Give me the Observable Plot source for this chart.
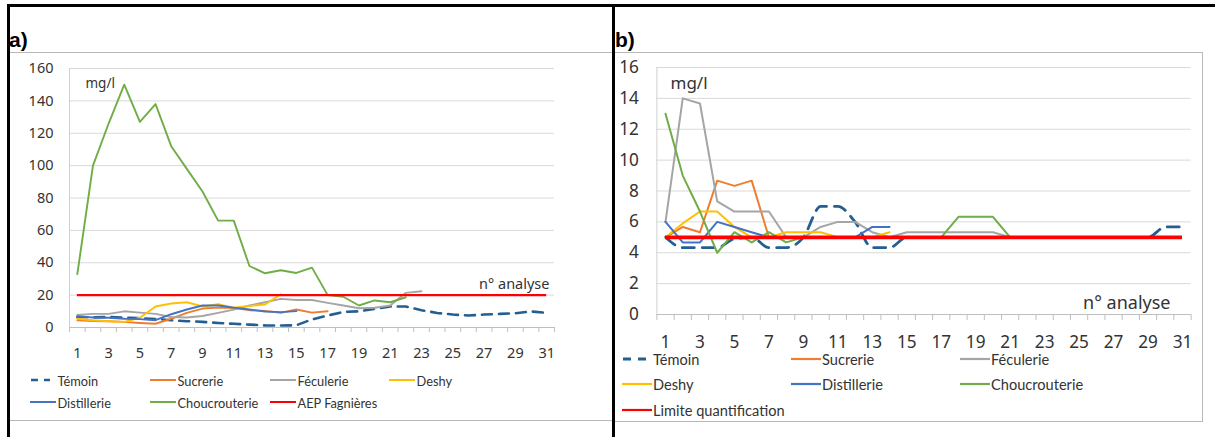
<!DOCTYPE html>
<html><head><meta charset="utf-8">
<script src="https://cdn.jsdelivr.net/npm/d3@7"></script>
<script src="https://cdn.jsdelivr.net/npm/@observablehq/plot@0.6"></script>
<style>
body{margin:0;background:#fff;width:1215px;height:437px;position:relative;overflow:hidden;font-family:Lato,"Noto Sans",sans-serif;color:#333}
.abs{position:absolute}
.lbl{position:absolute;white-space:nowrap;line-height:1}
</style></head><body>
<script>
// ---------- data ----------
const analyses = [1,2,3,4,5,6,7,8,9,10,11,12,13,14,15,16,17,18,19,20,21,22,23,24,25,26,27,28,29,30,31];
const xTickLabels = [1,3,5,7,9,11,13,15,17,19,21,23,25,27,29,31];
const yTicksA = [0,20,40,60,80,100,120,140,160];
const yTicksB = [0,2,4,6,8,10,12,14,16];

const seriesNamesA = ["Témoin","Sucrerie","Féculerie","Deshy","Distillerie","Choucrouterie","AEP Fagnières"];
const seriesNamesB = ["Témoin","Sucrerie","Féculerie","Deshy","Distillerie","Choucrouterie","Limite quantification"];

// panel a (mg/l)
const temoinA = [6.5,6.2,6.5,6,5.8,5.2,4.5,3.9,3.5,2.8,2.3,1.8,1.3,1.2,1.4,5,7.4,9.6,10,11.5,13,13,10.7,9,8,7.4,8,8.4,8.8,9.9,9];
const sucrerieA = [4.5,4,3.9,3.5,2.8,2.3,5.4,9,11.7,12.3,12,10.7,10.3,9,11.1,9.2,10];
const feculerieA = [7.8,8.4,8.4,10,9.2,8.4,6.5,6.2,7.1,9,11,13.6,15.6,17.7,17,17,15.2,13.6,11.9,12.2,13.6,21.4,22.4];
const deshyA = [5.4,4.5,3.9,3.5,6,13,14.8,15.6,13,14.4,12.3,13.3,14.2,20.5];
const distillerieA = [7,6.2,6,5.4,5.2,4.5,8.2,11.1,13.6,13.6,12.3,11.1,9.9,9.5,10.1];
const choucrouterieA = [33,100,126,150,127,138,112,98,84,66,66,38,33.5,35.4,33.7,37,20,19,13.6,16.7,15.6,18.7];
const aepFagnieres = 20;

// panel b (mg/l)
const temoinB = [5,4.33,4.33,4.33,4.9,5,4.33,4.33,5,7,7,6,4.33,4.33,5,5,5,5,5,5,5,5,5,5,5,5,5,5,5,5.67,5.67];
const sucrerieB = [5,5.67,5.33,8.67,8.33,8.67,5];
const feculerieB = [6,14,13.67,7.33,6.67,6.67,6.67,5,5,5.67,6,6,5.33,5,5.33,5.33,5.33,5.33,5.33,5.33,5];
const deshyB = [5,5.9,6.67,6.67,5.67,5,5,5.33,5.33,5.33,5,5,5,5.33];
const distillerieB = [6,4.67,4.67,6,5.67,5.33,5,5,5,5,5,5,5.67,5.67];
const choucrouterieB = [13,9,6.67,4,5.33,4.67,5.33,4.67,5,5,5,5,5,5,5,5,5,6.33,6.33,6.33,5];
const limiteQuantification = 5;

// ---------- styles ----------
const colors = ["#255E91","#ED7D31","#A5A5A5","#FFC000","#4472C4","#70AD47","#FF0000"];
const FONT = "Lato, 'Noto Sans', sans-serif";
const TXT = "#333";

const toPts = vals => vals.map((v,i) => ({x: analyses[i], y: v}));
const boundaries = [0.5].concat(analyses.map(d => d + 0.5));

function chart({seriesVals, level, yTicks, yMax, width, height, mL, mR, mT, mB,
                fs, padY, padX, tickLen, lw, dashW, dash, curveT, redW,
                mgFs, mgDx, mgDy, naFs, naDx, naDy}) {
  const lineMarks = seriesVals.map((vals, i) => Plot.line(toPts(vals), {
    x: "x", y: "y", stroke: colors[i],
    strokeWidth: i === 0 ? dashW : lw,
    strokeDasharray: i === 0 ? dash : null,
    strokeLinejoin: "round",
    curve: i === 0 ? curveT : "linear"
  }));
  return Plot.plot({
    width, height, marginLeft: mL, marginRight: mR, marginTop: mT, marginBottom: mB,
    x: {domain: [0.5, 31.5]},
    y: {domain: [0, yMax]},
    style: {fontFamily: FONT, fontSize: fs + "px", color: TXT, background: "transparent", overflow: "visible"},
    marks: [
      Plot.gridY(yTicks, {stroke: "#d9d9d9", strokeOpacity: 1, strokeWidth: 1}),
      Plot.ruleX([0.5], {stroke: "#d0d0d0", strokeWidth: 1}),
      Plot.ruleY([0], {stroke: "#bfbfbf", strokeWidth: 1}),
      Plot.axisX(boundaries, {tickSize: tickLen, tickFormat: () => "", stroke: "#bfbfbf", label: null}),
      Plot.axisX(xTickLabels, {tickSize: 0, tickPadding: padX, fontSize: fs, fill: TXT, label: null}),
      Plot.axisY(yTicks, {tickSize: 0, tickPadding: padY, fontSize: fs, fill: TXT, label: null}),
      ...lineMarks,
      Plot.ruleY([level], {x1: analyses[0], x2: analyses[analyses.length - 1], stroke: colors[6], strokeWidth: redW}),
      Plot.text(["mg/l"], {text: d => d, frameAnchor: "top-left", lineAnchor: "middle", dx: mgDx, dy: mgDy, textAnchor: "start", fontSize: mgFs, fill: TXT}),
      Plot.text(["n° analyse"], {text: d => d, frameAnchor: "bottom-right", lineAnchor: "middle", dx: naDx, dy: naDy, textAnchor: "end", fontSize: naFs, fill: TXT})
    ]
  });
}

// ---------- frames ----------
function box(css) { const d = document.createElement("div"); d.className = "abs"; d.style.cssText = css; document.body.appendChild(d); return d; }
box("left:9px;top:52px;width:603px;height:0;border-top:1px solid #b8b8b8");
box("left:9px;top:420px;width:603px;height:0;border-top:1px solid #b8b8b8");
box("left:614px;top:52px;width:588px;height:368px;border:1px solid #b8b8b8;border-left:none");
box("left:7px;top:4px;width:1208px;height:3px;background:#000");
box("left:7px;top:4px;width:2.5px;height:433px;background:#000");
box("left:612px;top:4px;width:2.5px;height:433px;background:#000");

function label(text, css) { const d = document.createElement("div"); d.className = "lbl"; d.textContent = text; d.style.cssText = css; document.body.appendChild(d); return d; }
label("a)", "left:9px;top:28px;font:bold 21px 'Liberation Sans',Arial,sans-serif;color:#000");
label("b)", "left:615px;top:28px;font:bold 21px 'Liberation Sans',Arial,sans-serif;color:#000");

// ---------- charts ----------
const a = chart({
  seriesVals: [temoinA, sucrerieA, feculerieA, deshyA, distillerieA, choucrouterieA],
  level: aepFagnieres, yTicks: yTicksA, yMax: 160,
  width: 603, height: 312, mL: 60, mR: 58, mT: 15, mB: 38,
  fs: 14.5, padY: 16, padX: 20, tickLen: 5, lw: 1.9, dashW: 2.6, dash: "10,7", curveT: "linear", redW: 2.4,
  mgFs: 13.5, mgDx: 16, mgDy: 15, naFs: 14.5, naDx: -5, naDy: -43
});
a.style.cssText = "position:absolute;left:9px;top:53px";
document.body.appendChild(a);

const b = chart({
  seriesVals: [temoinB, sucrerieB, feculerieB, deshyB, distillerieB, choucrouterieB],
  level: limiteQuantification, yTicks: yTicksB, yMax: 16,
  width: 588, height: 301, mL: 41.4, mR: 12.4, mT: 14, mB: 40,
  fs: 17.2, padY: 18, padX: 21, tickLen: 6, lw: 2, dashW: 2.8, dash: "12,8", curveT: "monotone-x", redW: 3.8,
  mgFs: 17, mgDx: 13.6, mgDy: 16, naFs: 18, naDx: -20.6, naDy: -11
});
b.style.cssText = "position:absolute;left:615px;top:53px";
document.body.appendChild(b);

// ---------- legends ----------
function legend(names, cols, rows, swW, textGap, fs, lw, dashW, dash) {
  names.forEach((name, i) => {
    const cx = cols[i % cols.length], cy = rows[Math.floor(i / cols.length)];
    const ns = "http://www.w3.org/2000/svg";
    const svg = document.createElementNS(ns, "svg");
    svg.setAttribute("width", swW); svg.setAttribute("height", 6);
    svg.style.cssText = `position:absolute;left:${cx}px;top:${cy - 3}px`;
    const ln = document.createElementNS(ns, "line");
    ln.setAttribute("x1", i === 0 ? 1 : 0); ln.setAttribute("x2", i === 0 ? swW - 6 : swW);
    ln.setAttribute("y1", 3); ln.setAttribute("y2", 3);
    ln.setAttribute("stroke", colors[i]);
    ln.setAttribute("stroke-width", i === 0 ? dashW : lw);
    if (i === 0) ln.setAttribute("stroke-dasharray", dash);
    svg.appendChild(ln);
    document.body.appendChild(svg);
    label(name, `left:${cx + swW + textGap}px;top:${cy - fs * 0.55}px;font:${fs}px ${FONT};color:${TXT}`);
  });
}
legend(seriesNamesA, [30, 150, 270, 389], [380, 402], 26, 1.5, 12.8, 2, 2.6, "7,6");
legend(seriesNamesB, [622, 791, 960], [359, 384, 410], 30, 1, 14.6, 2.2, 3, "8,7");
</script>
</body></html>
